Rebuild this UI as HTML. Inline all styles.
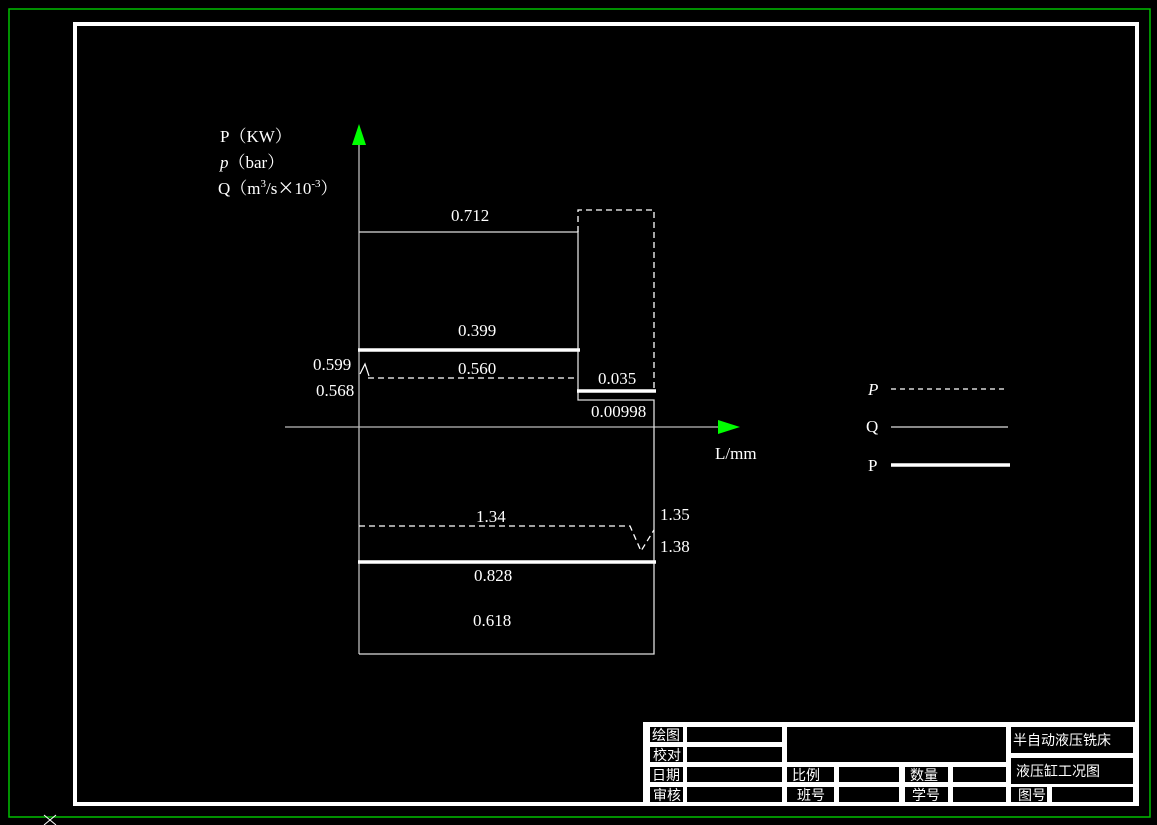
<!DOCTYPE html>
<html><head><meta charset="utf-8"><style>
html,body{margin:0;padding:0;background:#000;}
svg{display:block;}
text{font-family:"Liberation Serif","Noto Serif CJK SC",serif;fill:#fff;}
.cj{font-family:"Liberation Sans","Noto Sans CJK SC",sans-serif;font-size:14px;fill:#fff;}
</style></head><body>
<svg width="1157" height="825" viewBox="0 0 1157 825" xmlns="http://www.w3.org/2000/svg">
<rect x="0" y="0" width="1157" height="825" fill="#000"/>
<rect x="9" y="9" width="1141" height="808" fill="none" stroke="#00c000" stroke-width="1.5"/>
<rect x="75" y="24" width="1062" height="780" fill="none" stroke="#fff" stroke-width="4"/>
<path d="M44 815 L56 825 M56 815 L44 825" stroke="#fff" stroke-width="1"/>

<!-- axes -->
<line x1="359" y1="140" x2="359" y2="654" stroke="#bbb" stroke-width="1.3"/>
<polygon points="359,124 352,145 366,145" fill="#00ff00"/>
<line x1="285" y1="427" x2="720" y2="427" stroke="#bbb" stroke-width="1.3"/>
<polygon points="740,427 718,420 718,434" fill="#00ff00"/>
<text x="715" y="459" font-size="17">L/mm</text>

<text x="220" y="142" font-size="17">P（KW）</text>
<text x="220" y="168" font-size="17"><tspan font-style="italic">p</tspan>（bar）</text>
<text x="218" y="194" font-size="17">Q（m<tspan font-size="11" dy="-7">3</tspan><tspan dy="7">/s</tspan><tspan font-family="Noto Sans CJK SC">×</tspan><tspan>10</tspan><tspan font-size="11" dy="-7">-3</tspan><tspan dy="7">）</tspan></text>

<!-- Q thin -->
<g stroke="#ddd" stroke-width="1.3" fill="none">
<path d="M359 232 H578 V400 H654 V654 H359"/>
</g>
<!-- dashed p -->
<g stroke="#fff" stroke-width="1.3" fill="none" stroke-dasharray="6,4">
<path d="M578 232 V210 H654 V391"/>
<path d="M368 378 H578"/>
<path d="M359 526 H630 L641 551 L654 530"/>
</g>
<path d="M360 374 L365 364 L369 376" stroke="#fff" stroke-width="1.2" fill="none"/>
<!-- thick P -->
<g stroke="#fff" stroke-width="3.5">
<line x1="358" y1="350" x2="580" y2="350"/>
<line x1="577" y1="391" x2="656" y2="391"/>
<line x1="358" y1="562" x2="656" y2="562"/>
</g>

<g font-size="17">
<text x="451" y="221">0.712</text>
<text x="458" y="336">0.399</text>
<text x="313" y="370">0.599</text>
<text x="458" y="374">0.560</text>
<text x="316" y="396">0.568</text>
<text x="598" y="384">0.035</text>
<text x="591" y="417">0.00998</text>
<text x="476" y="522">1.34</text>
<text x="660" y="520">1.35</text>
<text x="660" y="552">1.38</text>
<text x="474" y="581">0.828</text>
<text x="473" y="626">0.618</text>
</g>

<!-- legend -->
<text x="868" y="395" font-size="17" font-style="italic">P</text>
<line x1="891" y1="389" x2="1008" y2="389" stroke="#fff" stroke-width="1.2" stroke-dasharray="5,4"/>
<text x="866" y="432" font-size="17">Q</text>
<line x1="891" y1="427" x2="1008" y2="427" stroke="#ddd" stroke-width="1.3"/>
<text x="868" y="471" font-size="17">P</text>
<line x1="891" y1="465" x2="1010" y2="465" stroke="#fff" stroke-width="3.5"/>

<!-- title block -->
<rect x="643" y="722" width="495" height="83" fill="#fff"/>
<g fill="#000">
<rect x="650" y="727" width="33" height="15"/>
<rect x="687" y="727" width="95" height="15"/>
<rect x="787" y="727" width="219" height="35"/>
<rect x="1011" y="727" width="122" height="26"/>
<rect x="650" y="747" width="33" height="15"/>
<rect x="687" y="747" width="95" height="15"/>
<rect x="650" y="767" width="33" height="15"/>
<rect x="687" y="767" width="95" height="15"/>
<rect x="787" y="767" width="47" height="15"/>
<rect x="839" y="767" width="60" height="15"/>
<rect x="905" y="767" width="43" height="15"/>
<rect x="953" y="767" width="53" height="15"/>
<rect x="1011" y="758" width="122" height="26"/>
<rect x="650" y="787" width="33" height="15"/>
<rect x="687" y="787" width="95" height="15"/>
<rect x="787" y="787" width="47" height="15"/>
<rect x="839" y="787" width="60" height="15"/>
<rect x="905" y="787" width="43" height="15"/>
<rect x="953" y="787" width="53" height="15"/>
<rect x="1011" y="787" width="36" height="15"/>
<rect x="1052" y="787" width="81" height="15"/>
</g>
<text class="cj" x="652" y="740">绘图</text>
<text class="cj" x="653" y="760">校对</text>
<text class="cj" x="652" y="780">日期</text>
<text class="cj" x="653" y="800">审核</text>
<text class="cj" x="792" y="780">比例</text>
<text class="cj" x="797" y="800">班号</text>
<text class="cj" x="910" y="780">数量</text>
<text class="cj" x="912" y="800">学号</text>
<text class="cj" x="1013" y="745">半自动液压铣床</text>
<text class="cj" x="1016" y="776">液压缸工况图</text>
<text class="cj" x="1018" y="800">图号</text>
</svg>
</body></html>
